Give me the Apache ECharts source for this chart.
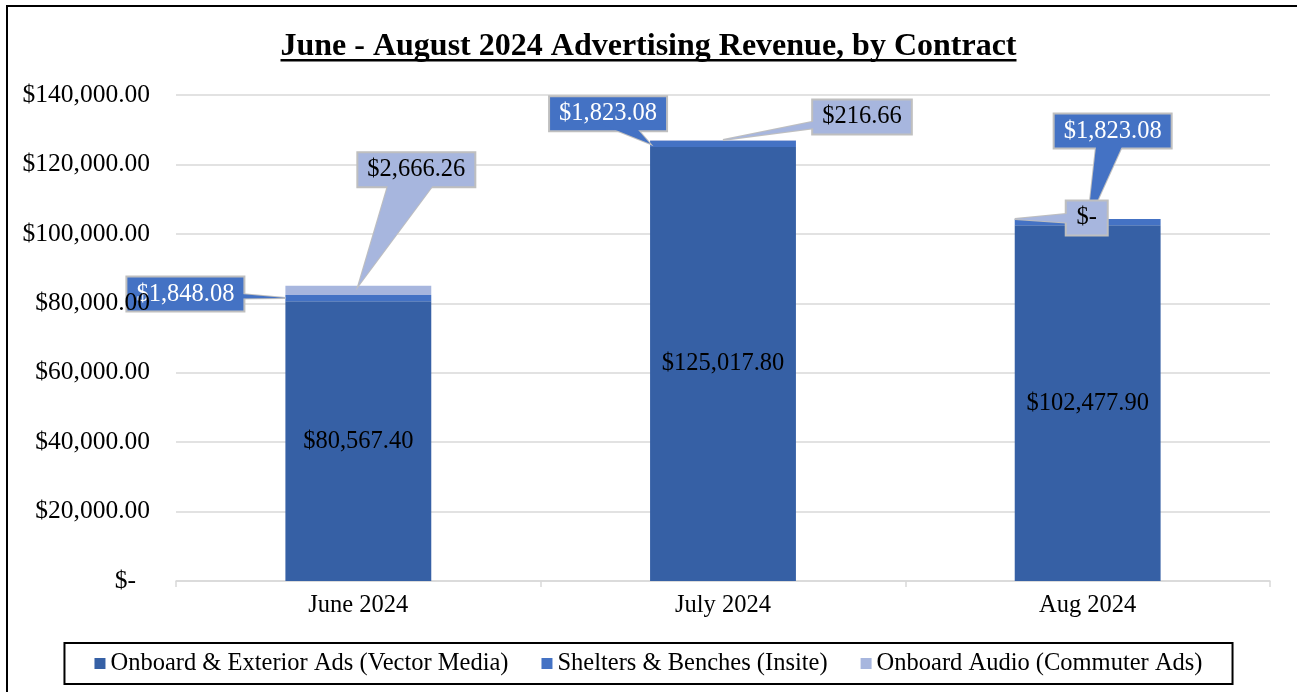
<!DOCTYPE html>
<html>
<head>
<meta charset="utf-8">
<title>June - August 2024 Advertising Revenue, by Contract</title>
<script src="https://cdn.jsdelivr.net/npm/echarts@6/dist/echarts.min.js"></script>
<style>
  html, body { margin: 0; padding: 0; background: #fff; }
  #chart { width: 1297px; height: 692px; }
</style>
</head>
<body>
<div id="chart"></div>
<script>
// values
const months = ['June 2024', 'July 2024', 'Aug 2024'];
const seriesNames = [
    'Onboard & Exterior Ads (Vector Media)',
    'Shelters & Benches (Insite)',
    'Onboard Audio (Commuter Ads)'
];
const vectorMedia = [80567.40, 125017.80, 102477.90];
const insite = [1848.08, 1823.08, 1823.08];
const commuterAds = [2666.26, 216.66, 0];
const yTicks = [0, 20000, 40000, 60000, 80000, 100000, 120000, 140000];

const allValues = [vectorMedia, insite, commuterAds];
const colors = ['#3660A5', '#4472C4', '#A7B6DE'];
const FONT = '"Liberation Serif", "Times New Roman", serif';
const FS = 24.5;
const FS_Y = 25.5;

// callout boxes: which bar segment they point at, and where the box sits (pixels from the tip)
const callouts = [
    { m: 0, s: 1, ax: -0.5, ay: 0.5, dx: -100, dy: -4, w: 10 },
    { m: 0, s: 2, ax: 0, ay: 1, dx: 58, dy: -116, w: 46 },
    { m: 1, s: 1, ax: -0.5, ay: 0.5, dx: -42, dy: -30, w: 25 },
    { m: 1, s: 2, ax: 0, ay: 1, dx: 139, dy: -23, w: 10 },
    { m: 2, s: 1, ax: 0, ay: 0.5, dx: 25, dy: -91, w: 30 },
    { m: 2, s: 2, ax: -0.5, ay: 1, dx: 72, dy: -1, w: 12 }
];

function money(v) {
    if (v === 0) return '$-';
    return '$' + v.toLocaleString('en-US', { minimumFractionDigits: 2, maximumFractionDigits: 2 });
}

const ctx = document.createElement('canvas').getContext('2d');
function textWidth(t, font) {
    ctx.font = font;
    return ctx.measureText(t).width;
}

function tipValue(c) {
    let base = 0;
    for (let k = 0; k < c.s; k++) base += allValues[k][c.m];
    return base + allValues[c.s][c.m] * c.ay;
}

function renderCallout(params, api) {
    const c = callouts[api.value(2)];
    const pt = api.coord([api.value(0), api.value(1)]);
    const barW = api.size([1, 0])[0] * 0.4;
    const tip = [pt[0] + c.ax * barW, pt[1]];
    const text = money(allValues[c.s][c.m]);
    const bw = Math.max(textWidth(text, FS + 'px ' + FONT) + 20, 42);
    const bh = 35;
    const cx = tip[0] + c.dx, cy = tip[1] + c.dy;
    const vx = tip[0] - cx, vy = tip[1] - cy;
    const len = Math.sqrt(vx * vx + vy * vy);
    const nx = -vy / len, ny = vx / len;
    const b1 = [cx + nx * c.w / 2, cy + ny * c.w / 2];
    const b2 = [cx - nx * c.w / 2, cy - ny * c.w / 2];
    const fill = colors[c.s];
    const border = '#BFBFBF';
    return {
        type: 'group',
        children: [
            { type: 'polygon', shape: { points: [b1, tip, b2] }, style: { fill: fill, stroke: border, lineWidth: 2 } },
            { type: 'rect', shape: { x: cx - bw / 2, y: cy - bh / 2, width: bw, height: bh }, style: { fill: fill, stroke: border, lineWidth: 2 } },
            { type: 'polygon', shape: { points: [b1, tip, b2] }, style: { fill: fill } },
            {
                type: 'text', x: cx, y: cy,
                style: {
                    text: text, fill: c.s === 1 ? '#fff' : '#000',
                    fontSize: FS, fontFamily: FONT, align: 'center', verticalAlign: 'middle'
                }
            }
        ]
    };
}

const titleText = 'June - August 2024 Advertising Revenue, by Contract';
const titleW = textWidth(titleText, 'bold 32px ' + FONT);

const yLabel = {
    margin: 26,
    color: '#000',
    fontFamily: FONT,
    fontSize: FS_Y,
    formatter: function (v) {
        return v === 0 ? '{z|$-}' : money(v);
    },
    rich: { z: { fontFamily: FONT, fontSize: FS_Y, color: '#000', padding: [0, 14, 0, 0] } }
};

const chart = echarts.init(document.getElementById('chart'));
const option = {
    animation: false,
    backgroundColor: '#fff',
    title: {
        text: titleText,
        left: 'center',
        top: 26,
        textStyle: { fontFamily: FONT, fontSize: 32, fontWeight: 'bold', color: '#000' }
    },
    graphic: [
        { type: 'rect', left: 'center', top: 59, shape: { width: titleW, height: 2.5 }, style: { fill: '#000' } },
        { type: 'rect', shape: { x: 7, y: 6, width: 1300, height: 700 }, style: { fill: 'none', stroke: '#000', lineWidth: 2 }, z: -1 }
    ],
    legend: {
        data: seriesNames,
        bottom: 8,
        left: 'center',
        icon: 'rect',
        itemWidth: 11,
        itemHeight: 11,
        itemGap: 33,
        padding: [8, 30],
        borderColor: '#000',
        borderWidth: 2,
        textStyle: { fontFamily: FONT, fontSize: FS, color: '#000' }
    },
    grid: { left: 176, right: 27, top: 95, bottom: 111 },
    xAxis: {
        type: 'category',
        data: months,
        axisLine: { lineStyle: { color: '#D9D9D9', width: 1.5 } },
        axisTick: { show: true, length: 6, lineStyle: { color: '#D9D9D9', width: 1.5 } },
        axisLabel: { margin: 12, color: '#000', fontFamily: FONT, fontSize: FS }
    },
    yAxis: [
        {
            type: 'value',
            min: 0,
            max: 140000,
            interval: 20000,
            axisLine: { show: false },
            axisTick: { show: false },
            splitLine: { lineStyle: { color: '#D9D9D9', width: 1.5 } },
            axisLabel: { show: false }
        },
        {
            // tick labels only, drawn above the callout boxes
            type: 'value',
            position: 'left',
            min: 0,
            max: 140000,
            interval: 20000,
            z: 20,
            axisLine: { show: false },
            axisTick: { show: false },
            splitLine: { show: false },
            axisLabel: yLabel
        }
    ],
    series: [
        {
            name: seriesNames[0], type: 'bar', stack: 'rev', barWidth: '40%',
            data: vectorMedia, itemStyle: { color: colors[0] },
            label: {
                show: true, position: 'inside', color: '#000', fontFamily: FONT, fontSize: FS,
                formatter: function (p) { return money(p.value); }
            }
        },
        {
            name: seriesNames[1], type: 'bar', stack: 'rev', barWidth: '40%',
            data: insite, itemStyle: { color: colors[1] }
        },
        {
            name: seriesNames[2], type: 'bar', stack: 'rev', barWidth: '40%',
            data: commuterAds, itemStyle: { color: colors[2] }
        },
        {
            type: 'custom',
            silent: true,
            z: 10,
            clip: false,
            encode: { x: 0, y: 1 },
            data: callouts.map(function (c, i) { return [c.m, tipValue(c), i]; }),
            renderItem: renderCallout
        }
    ]
};
chart.setOption(option);
</script>
</body>
</html>
